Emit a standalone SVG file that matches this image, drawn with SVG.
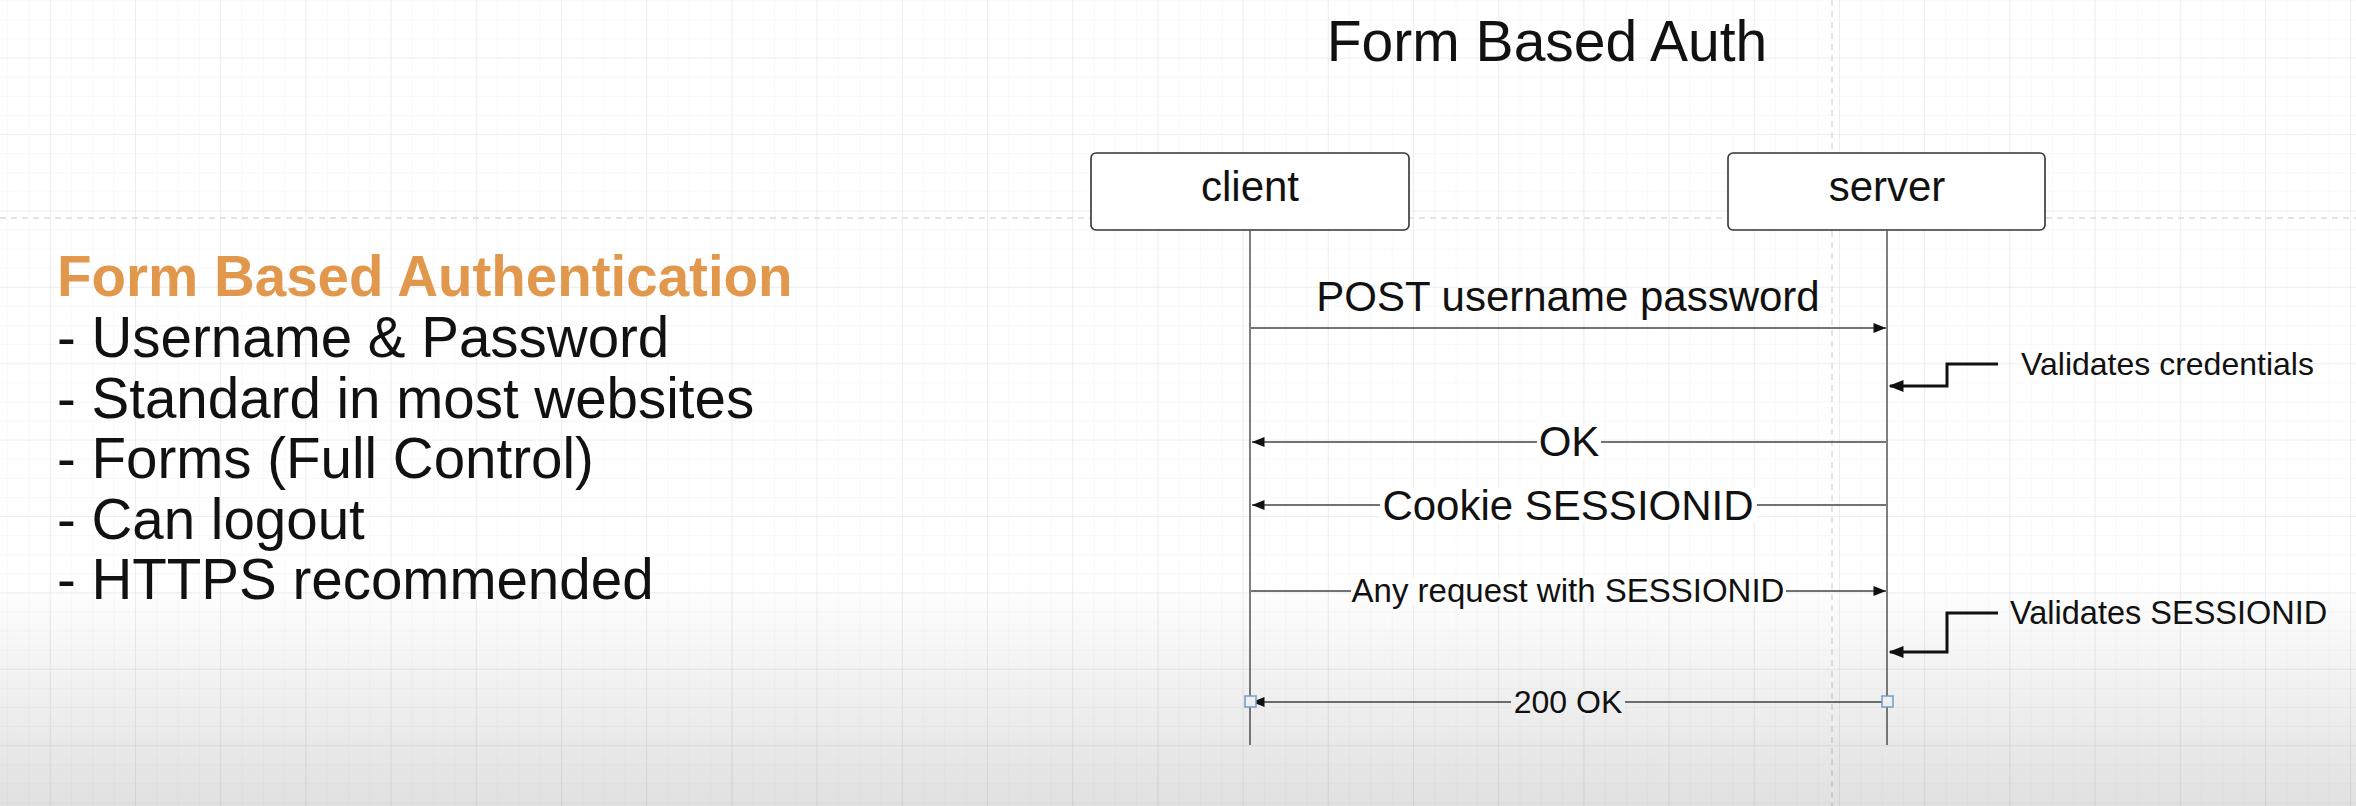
<svg xmlns="http://www.w3.org/2000/svg" width="2356" height="806" viewBox="0 0 2356 806">
  <style>
    .lbl { font-family: "Liberation Sans", Arial, sans-serif; fill: #111; }
    .box { fill: #ffffff; stroke: #333333; stroke-width: 1.6; }
    .life { stroke: #555555; stroke-width: 1.5; fill: none; }
    .msg { stroke: #444444; stroke-width: 1.6; fill: none; }
    .note { stroke: #111111; stroke-width: 3; fill: none; }
    .lblbg { fill: #ffffff; }
    .handle { fill: #ffffff; stroke: #7aa7d6; stroke-width: 1.5; }
  </style>
  <defs>
    <pattern id="gridMinor" patternUnits="userSpaceOnUse" x="49.8" y="57.6" width="21.3" height="19.1">
      <path d="M0 0 L0 19.1 M0 0 L21.3 0" stroke="#f3f3f3" stroke-width="1" fill="none"/>
    </pattern>
    <pattern id="gridMajor" patternUnits="userSpaceOnUse" x="49.8" y="57.6" width="85.2" height="76.4">
      <path d="M0 0 L0 76.4 M0 0 L85.2 0" stroke="#e4e4e4" stroke-width="1.2" fill="none"/>
    </pattern>
    <linearGradient id="shade" x1="0" y1="0" x2="0" y2="1">
      <stop offset="0" stop-color="#000000" stop-opacity="0"/>
      <stop offset="1" stop-color="#000000" stop-opacity="0.12"/>
    </linearGradient>
    <marker id="arrow" viewBox="0 0 10 8" refX="10" refY="4" markerUnits="userSpaceOnUse" markerWidth="13" markerHeight="10" orient="auto">
      <path d="M0 0 L10 4 L0 8 Z" fill="#111111"/>
    </marker>
    <marker id="arrowBold" viewBox="0 0 10 8" refX="9" refY="4" markerUnits="userSpaceOnUse" markerWidth="15" markerHeight="12" orient="auto">
      <path d="M0 0 L10 4 L0 8 Z" fill="#111111"/>
    </marker>
  </defs>

  <!-- canvas -->
  <rect x="0" y="0" width="2356" height="806" fill="#ffffff"/>
  <rect x="0" y="0" width="2356" height="806" fill="url(#gridMinor)"/>
  <rect x="0" y="0" width="2356" height="806" fill="url(#gridMajor)"/>
  <line x1="0" y1="218" x2="2356" y2="218" stroke="#dcdcdc" stroke-width="1.5" stroke-dasharray="6 5"/>
  <line x1="1832" y1="0" x2="1832" y2="806" stroke="#dcdcdc" stroke-width="1.5" stroke-dasharray="6 5"/>

  <!-- title -->
  <g id="title">
    <text class="lbl" x="1547" y="61" font-size="57" text-anchor="middle">Form Based Auth</text>
  </g>

  <!-- left notes -->
  <g id="notes">
    <text class="lbl" x="57" y="296" font-size="56.5" font-weight="bold" style="fill:#e1984d">Form Based Authentication</text>
    <text class="lbl" x="57" y="357" font-size="56.5">- Username &amp; Password</text>
    <text class="lbl" x="57" y="418" font-size="56.5">- Standard in most websites</text>
    <text class="lbl" x="57" y="478" font-size="56.5">- Forms (Full Control)</text>
    <text class="lbl" x="57" y="539" font-size="56.5">- Can logout</text>
    <text class="lbl" x="57" y="599" font-size="56.5">- HTTPS recommended</text>
  </g>

  <!-- participants -->
  <g id="client">
    <rect class="box" x="1091" y="153" width="318" height="77" rx="5"/>
    <text class="lbl" x="1250" y="201" font-size="42" text-anchor="middle">client</text>
    <line class="life" x1="1250" y1="230" x2="1250" y2="745"/>
  </g>
  <g id="server">
    <rect class="box" x="1728" y="153" width="317" height="77" rx="5"/>
    <text class="lbl" x="1887" y="201" font-size="42" text-anchor="middle">server</text>
    <line class="life" x1="1887" y1="230" x2="1887" y2="745"/>
  </g>

  <!-- connectors -->
  <g id="connectors">
    <line class="msg" x1="1251" y1="328" x2="1886" y2="328" marker-end="url(#arrow)"/>
    <line class="msg" x1="1886" y1="442" x2="1252" y2="442" marker-end="url(#arrow)"/>
    <line class="msg" x1="1886" y1="505" x2="1252" y2="505" marker-end="url(#arrow)"/>
    <line class="msg" x1="1251" y1="591" x2="1886" y2="591" marker-end="url(#arrow)"/>
    <line class="msg" x1="1886" y1="702" x2="1252" y2="702" marker-end="url(#arrow)"/>
    <polyline class="note" points="1998,364 1947,364 1947,386 1890,386" marker-end="url(#arrowBold)"/>
    <polyline class="note" points="1998,613 1947,613 1947,652 1890,652" marker-end="url(#arrowBold)"/>
  </g>

  <!-- message labels -->
  <g id="labels">
    <text class="lbl" x="1568" y="311" font-size="42" text-anchor="middle">POST username password</text>
    <rect class="lblbg" x="1537" y="425" width="64" height="34"/>
    <text class="lbl" x="1569" y="456" font-size="42" text-anchor="middle">OK</text>
    <rect class="lblbg" x="1380" y="488" width="377" height="34"/>
    <text class="lbl" x="1568" y="520" font-size="42" text-anchor="middle">Cookie SESSIONID</text>
    <rect class="lblbg" x="1351" y="578" width="435" height="28"/>
    <text class="lbl" x="1568" y="602" font-size="33" text-anchor="middle">Any request with SESSIONID</text>
    <rect class="lblbg" x="1511" y="689" width="114" height="26"/>
    <text class="lbl" x="1568" y="713" font-size="32" text-anchor="middle">200 OK</text>
    <text class="lbl" x="2021" y="375" font-size="32">Validates credentials</text>
    <text class="lbl" x="2010" y="624" font-size="32.5">Validates SESSIONID</text>
  </g>

  <!-- selection handles -->
  <g id="handles">
    <rect class="handle" x="1245" y="696" width="11" height="11"/>
    <rect class="handle" x="1882" y="696" width="11" height="11"/>
  </g>

  <!-- bottom shading -->
  <rect x="0" y="580" width="2356" height="226" fill="url(#shade)"/>
</svg>
